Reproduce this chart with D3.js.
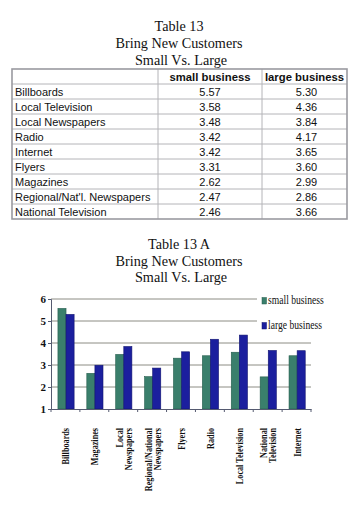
<!DOCTYPE html>
<html><head><meta charset="utf-8">
<script src="https://cdn.jsdelivr.net/npm/d3@7"></script>
<style>
html,body{margin:0;padding:0;background:#fff;}
svg{display:block;}
</style></head>
<body>
<svg id="c" width="360" height="506"></svg>
<script>
// ---- data ----
const tableTitle = ["Table 13", "Bring New Customers", "Small Vs. Large"];
const chartTitle = ["Table 13 A", "Bring New Customers", "Small Vs. Large"];
const tableHeaders = ["", "small business", "large business"];
const tableRows = ["Billboards","Local Television","Local Newspapers","Radio","Internet","Flyers","Magazines","Regional/Nat'l. Newspapers","National Television"];
const tableSmall = ["5.57","3.58","3.48","3.42","3.42","3.31","2.62","2.47","2.46"];
const tableLarge = ["5.30","4.36","3.84","4.17","3.65","3.60","2.99","2.86","3.66"];

const categories = ["Billboards","Magazines","Local Newspapers","Regional/National Newspapers","Flyers","Radio","Local Television","National Television","Internet"];
const categoryLines = [["Billboards"],["Magazines"],["Local","Newspapers"],["Regional/National","Newspapers"],["Flyers"],["Radio"],["Local Television"],["National","Television"],["Internet"]];
const series = ["small business","large business"];
const smallValues = [5.57,2.62,3.48,2.47,3.31,3.42,3.58,2.46,3.42];
const largeValues = [5.30,2.99,3.84,2.86,3.60,4.17,4.36,3.66,3.65];
const yTicks = [1,2,3,4,5,6];

const colors = {"small business":"#3a7f6c","large business":"#1b1f9e"};
const serif = "'Liberation Serif','Times New Roman',serif";
const sans = "'Liberation Sans',Arial,sans-serif";

const svg = d3.select("#c");

// ---- titles ----
function titleBlock(lines, ys, xs){
  lines.forEach((t,i)=>{
    svg.append("text").attr("x",xs[i]).attr("y",ys[i]).attr("text-anchor","middle")
      .attr("font-family",serif).attr("font-size","14.2px").attr("fill","#111").text(t);
  });
}
titleBlock(tableTitle,[30.5,47.5,64.5],[179,179,181]);
titleBlock(chartTitle,[249,265.5,282],[179,179,181]);

// ---- table ----
const tX = [12,158,262,347];
const tTop = 69, rowH = 15;
const nRows = tableRows.length + 1;
const tg = svg.append("g");
for(let r=1;r<nRows;r++){
  tg.append("line").attr("x1",tX[0]).attr("x2",tX[3]).attr("y1",tTop+r*rowH).attr("y2",tTop+r*rowH)
    .attr("stroke","#b4b4b8").attr("stroke-width",1);
}
[tX[1],tX[2]].forEach(x=>{
  tg.append("line").attr("x1",x).attr("x2",x).attr("y1",tTop).attr("y2",tTop+nRows*rowH)
    .attr("stroke","#b4b4b8").attr("stroke-width",1);
});
tg.append("rect").attr("x",tX[0]).attr("y",tTop).attr("width",tX[3]-tX[0]).attr("height",nRows*rowH)
  .attr("fill","none").attr("stroke","#9a9aa0").attr("stroke-width",1.6);

const colCenters = [null,(tX[1]+tX[2])/2,(tX[2]+tX[3])/2];
tableHeaders.forEach((h,i)=>{
  if(!h) return;
  tg.append("text").attr("x",colCenters[i]).attr("y",tTop+rowH-3.5).attr("text-anchor","middle")
    .attr("font-family",sans).attr("font-weight","bold").attr("font-size","11.3px").attr("fill","#111").text(h);
});
tableRows.forEach((name,r)=>{
  const y = tTop+(r+2)*rowH-3.5;
  tg.append("text").attr("x",tX[0]+3).attr("y",y).attr("font-family",sans).attr("font-size","11px").attr("fill","#111").text(name);
  tg.append("text").attr("x",colCenters[1]).attr("y",y).attr("text-anchor","middle").attr("font-family",sans).attr("font-size","11px").attr("fill","#111").text(tableSmall[r]);
  tg.append("text").attr("x",colCenters[2]+2).attr("y",y).attr("text-anchor","middle").attr("font-family",sans).attr("font-size","11px").attr("fill","#111").text(tableLarge[r]);
});

// ---- chart ----
const plotL = 51, plotR = 311, plotT = 299, plotB = 409;
const x0 = d3.scaleBand().domain(categories).range([plotL,plotR]);
const x1 = d3.scaleBand().domain(series).range([x0.bandwidth()*0.24, x0.bandwidth()*0.80]);
const y = d3.scaleLinear().domain([1,6]).range([plotB,plotT]);

svg.append("g").selectAll("line").data(yTicks.filter(t=>t>1)).join("line")
  .attr("x1",plotL).attr("x2",plotR).attr("y1",d=>y(d)).attr("y2",d=>y(d))
  .attr("stroke","#8c8c84").attr("stroke-width",1);

const data = categories.map((c,i)=>({cat:c, vals:[{s:series[0],v:smallValues[i]},{s:series[1],v:largeValues[i]}]}));
const bg = svg.append("g").selectAll("g").data(data).join("g").attr("transform",d=>`translate(${x0(d.cat)},0)`);
bg.selectAll("rect").data(d=>d.vals).join("rect")
  .attr("x",d=>x1(d.s)).attr("width",x1.bandwidth())
  .attr("y",d=>y(d.v)).attr("height",d=>y(1)-y(d.v))
  .attr("fill",d=>colors[d.s]).attr("stroke",d=>d.s===series[0]?"#245c4c":"#121470").attr("stroke-width",0.6);

const yAxis = d3.axisLeft(y).tickValues(yTicks).tickSize(3).tickFormat(d3.format("d"));
const ya = svg.append("g").attr("transform",`translate(${plotL},0)`).call(yAxis);
ya.select(".domain").attr("stroke","#555a70");
ya.selectAll(".tick line").attr("stroke","#555a70");
ya.selectAll(".tick text").attr("font-family",serif).attr("font-weight","bold").attr("font-size","11px").attr("fill","#111").attr("x",-5);

const xa = svg.append("g").attr("transform",`translate(0,${plotB})`).call(d3.axisBottom(x0).tickSize(0).tickFormat(""));
xa.select(".domain").attr("stroke","#555a70");
const bounds = categories.map(c=>x0(c)).concat([x0.range()[1]]);
xa.selectAll(".bt").data(bounds).join("line").attr("class","bt")
  .attr("x1",d=>d).attr("x2",d=>d).attr("y1",0).attr("y2",3).attr("stroke","#555a70");

const condense = 0.78;
const lg = svg.append("g").selectAll("g").data(categories).join("g")
  .attr("transform",(c)=>`translate(${x0(c)+x0.bandwidth()/2+0.5},428) rotate(-90) scale(${condense},1)`);
lg.each(function(c,i){
  const lines = categoryLines[i];
  const n = lines.length;
  d3.select(this).selectAll("text").data(lines).join("text")
    .attr("x",0).attr("y",(d,j)=>(j-(n-1)/2)*9+3.5)
    .attr("text-anchor","end").attr("font-family",serif).attr("font-weight","bold")
    .attr("font-size","10.5px").attr("fill","#111").text(d=>d);
});

const leg = svg.append("g");
leg.append("rect").attr("x",257).attr("y",291).attr("width",90).attr("height",43).attr("fill","#fff");
series.forEach((s,i)=>{
  const yy = 297.5 + i*25;
  leg.append("rect").attr("x",262).attr("y",yy).attr("width",4.5).attr("height",6.5).attr("fill",colors[s]).attr("stroke",i?"#121470":"#245c4c").attr("stroke-width",0.5);
  leg.append("text").attr("transform",`translate(268,${yy+6}) scale(0.74,1)`)
    .attr("font-family",serif).attr("font-size","13px").attr("fill","#111").text(s);
});
</script>
</body></html>
